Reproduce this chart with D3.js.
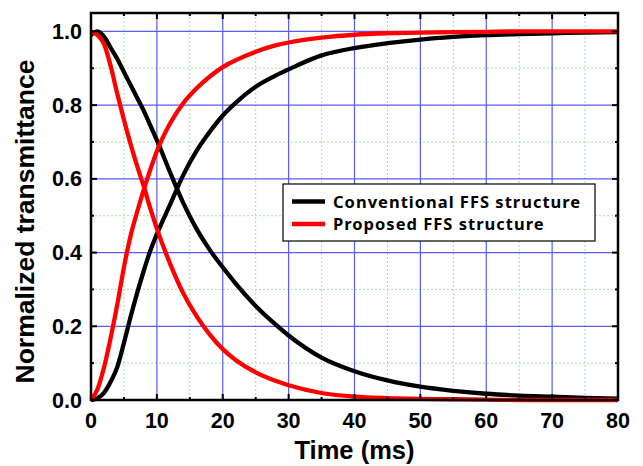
<!DOCTYPE html>
<html>
<head>
<meta charset="utf-8">
<script src="https://cdn.jsdelivr.net/npm/d3@7"></script>
<style>
  body { margin: 0; background: #fff; }
  svg { display: block; }
</style>
</head>
<body>
<svg width="643" height="466"></svg>
<script>
// time points (ms)
const times = [0, 1, 2, 3, 4, 5, 6, 7, 8, 9, 10, 12, 14, 16, 18, 20, 22, 25, 28, 30, 35, 40, 45, 50, 55, 60, 65, 70, 75, 80];

// conventional FFS - decay and rise
const convDecay = [0.99, 1.0, 0.985, 0.955, 0.925, 0.89, 0.855, 0.82, 0.785, 0.745, 0.705, 0.618, 0.535, 0.465, 0.408, 0.36, 0.315, 0.255, 0.205, 0.175, 0.115, 0.078, 0.053, 0.036, 0.025, 0.017, 0.012, 0.009, 0.006, 0.004];
const convRise = [0, 0.005, 0.02, 0.05, 0.09, 0.155, 0.225, 0.29, 0.35, 0.405, 0.45, 0.53, 0.61, 0.675, 0.727, 0.772, 0.807, 0.85, 0.88, 0.897, 0.935, 0.955, 0.968, 0.978, 0.985, 0.99, 0.993, 0.995, 0.997, 0.998];

// proposed FFS - decay and rise
const propDecay = [1.0, 0.99, 0.965, 0.905, 0.83, 0.76, 0.695, 0.635, 0.58, 0.52, 0.465, 0.37, 0.29, 0.228, 0.178, 0.138, 0.108, 0.075, 0.052, 0.04, 0.019, 0.009, 0.005, 0.003, 0.002, 0.001, 0, 0, 0, 0];
const propRise = [0, 0.03, 0.09, 0.17, 0.26, 0.36, 0.445, 0.51, 0.57, 0.625, 0.675, 0.75, 0.805, 0.845, 0.877, 0.903, 0.922, 0.945, 0.962, 0.97, 0.983, 0.991, 0.995, 0.997, 0.998, 0.999, 1, 1, 1, 1];

const legendNames = ["Conventional FFS structure", "Proposed FFS structure"];
const xTicks = [0, 10, 20, 30, 40, 50, 60, 70, 80];
const yTicks = [0, 0.2, 0.4, 0.6, 0.8, 1.0];

const svg = d3.select("svg");
const mLeft = 91, mTop = 13, mRight = 618, mBottom = 400;
const width = mRight - mLeft, height = mBottom - mTop;

const x = d3.scaleLinear().domain([0, 80]).range([0, width]);
const y = d3.scaleLinear().domain([0, 1.05]).range([height, 0]);

const g = svg.append("g").attr("transform", "translate(" + mLeft + "," + mTop + ")");

// minor grid (green dotted)
const xMinor = d3.range(5, 80, 10);
const yMinor = d3.range(0.1, 1.0, 0.2);
g.append("g").selectAll("line").data(xMinor).enter().append("line")
  .attr("x1", d => x(d)).attr("x2", d => x(d)).attr("y1", 0).attr("y2", height)
  .attr("stroke", "#9de89d").attr("stroke-width", 1).attr("stroke-dasharray", "2,2");
g.append("g").selectAll("line").data(yMinor).enter().append("line")
  .attr("y1", d => y(d)).attr("y2", d => y(d)).attr("x1", 0).attr("x2", width)
  .attr("stroke", "#9de89d").attr("stroke-width", 1).attr("stroke-dasharray", "2,2");

// major grid (blue)
g.append("g").selectAll("line").data(xTicks.slice(1, -1)).enter().append("line")
  .attr("x1", d => x(d)).attr("x2", d => x(d)).attr("y1", 0).attr("y2", height)
  .attr("stroke", "#5a5af5").attr("stroke-width", 1.2);
g.append("g").selectAll("line").data(yTicks.slice(1)).enter().append("line")
  .attr("y1", d => y(d)).attr("y2", d => y(d)).attr("x1", 0).attr("x2", width)
  .attr("stroke", "#5a5af5").attr("stroke-width", 1.2);

// curves
const line = d3.line().x((d, i) => x(times[i])).y(d => y(d)).curve(d3.curveMonotoneX);
const series = [
  { v: convDecay, c: "#000" },
  { v: convRise, c: "#000" },
  { v: propDecay, c: "#ff0000" },
  { v: propRise, c: "#ff0000" }
];
g.append("g").selectAll("path").data(series).enter().append("path")
  .attr("d", d => line(d.v))
  .attr("fill", "none")
  .attr("stroke", d => d.c)
  .attr("stroke-width", 4.3);

// ticks inward on all four sides
function xTicksAt(vals, len) {
  vals.forEach(function (v) {
    g.append("line").attr("x1", x(v)).attr("x2", x(v)).attr("y1", height).attr("y2", height - len)
      .attr("stroke", "#000").attr("stroke-width", 2);
    g.append("line").attr("x1", x(v)).attr("x2", x(v)).attr("y1", 0).attr("y2", len)
      .attr("stroke", "#000").attr("stroke-width", 2);
  });
}
xTicksAt(xTicks, 6);
xTicksAt(xMinor, 3);
function yTicksAt(vals, len) {
  vals.forEach(function (v) {
    g.append("line").attr("y1", y(v)).attr("y2", y(v)).attr("x1", 0).attr("x2", len)
      .attr("stroke", "#000").attr("stroke-width", 2);
    g.append("line").attr("y1", y(v)).attr("y2", y(v)).attr("x1", width).attr("x2", width - len)
      .attr("stroke", "#000").attr("stroke-width", 2);
  });
}
yTicksAt(yTicks, 6);
yTicksAt(yMinor, 3);

// frame
g.append("rect").attr("x", 0).attr("y", 0).attr("width", width).attr("height", height)
  .attr("fill", "none").attr("stroke", "#000").attr("stroke-width", 2.5);

// tick labels
g.append("g").selectAll("text").data(xTicks).enter().append("text")
  .attr("x", d => x(d)).attr("y", height + 28)
  .attr("text-anchor", "middle")
  .style("font-family", "'Liberation Sans', Arial, sans-serif")
  .style("font-weight", "bold").style("font-size", "21.5px")
  .text(d => d);
g.append("g").selectAll("text").data(yTicks).enter().append("text")
  .attr("x", -9).attr("y", d => y(d) + 7.5)
  .attr("text-anchor", "end")
  .style("font-family", "'Liberation Sans', Arial, sans-serif")
  .style("font-weight", "bold").style("font-size", "21.5px")
  .text(d => d.toFixed(1));

// axis titles
svg.append("text")
  .attr("x", (mLeft + mRight) / 2).attr("y", 459)
  .attr("text-anchor", "middle")
  .style("font-family", "'Liberation Sans', Arial, sans-serif")
  .style("font-weight", "bold").style("font-size", "25.5px")
  .text("Time (ms)");
svg.append("text")
  .attr("text-anchor", "middle")
  .attr("transform", "translate(34," + 221.5 + ")rotate(-90)")
  .style("font-family", "'Liberation Sans', Arial, sans-serif")
  .style("font-weight", "bold").style("font-size", "26.5px")
  .text("Normalized transmittance");

// legend
const lg = svg.append("g").attr("transform", "translate(283,184)");
lg.append("rect").attr("width", 312).attr("height", 57)
  .attr("fill", "#fff").attr("stroke", "#000").attr("stroke-width", 1.2);
lg.selectAll("g.item").data(legendNames).enter().append("g")
  .attr("class", "item")
  .attr("transform", (d, i) => "translate(0," + (17.5 + i * 22.5) + ")")
  .each(function (d, i) {
    const it = d3.select(this);
    it.append("line").attr("x1", 9).attr("x2", 42).attr("y1", 0).attr("y2", 0)
      .attr("stroke", i === 0 ? "#000" : "#ff0000").attr("stroke-width", 4.3);
    it.append("text").attr("x", 50).attr("y", 6)
      .style("font-family", "'Noto Sans', sans-serif")
      .style("font-weight", "bold").style("font-size", "16.5px")
      .style("letter-spacing", "1px")
      .text(d);
  });
</script>
</body>
</html>
